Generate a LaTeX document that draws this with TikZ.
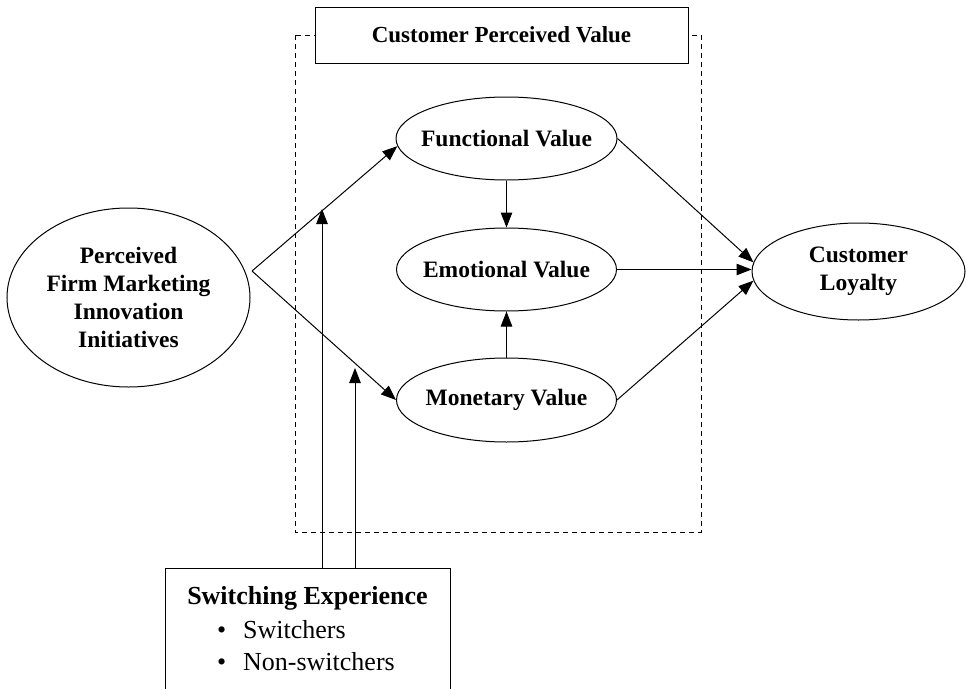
\documentclass[tikz,border=0pt]{standalone}
\usepackage{fontspec}
\setmainfont{Liberation Serif}
\usetikzlibrary{shapes.geometric,arrows.meta}
\begin{document}
\begin{tikzpicture}[x=1pt,y=-1pt,
  ln/.style={line width=1pt},
  ar/.style={line width=1pt,-{Triangle[length=15pt,width=11.5pt]}},
  ell/.style={ellipse,draw,line width=1pt,inner sep=0pt},
  lbl/.style={font=\fontsize{23.5}{28.3}\selectfont\bfseries,align=center,inner sep=0pt},
  boxtxt/.style={font=\fontsize{26}{30}\selectfont,inner sep=0pt}
]
\useasboundingbox (0,0) rectangle (966,688);
% dashed frame
\draw[line width=0.9pt,dash pattern=on 5pt off 4pt] (295,35) rectangle (701,532);
\node[draw,fill=white,line width=1pt,minimum width=373pt,minimum height=56pt,inner sep=0pt,
      font=\fontsize{23}{27}\selectfont\bfseries] (CPV) at (501.5,35) {Customer Perceived Value};
% ellipses
\node[ell,minimum width=243pt,minimum height=179pt] (P) at (128.5,297.5) {};
\node[lbl] (Pt) at (P) {Perceived\\Firm Marketing\\Innovation\\Initiatives};
\node[ell,minimum width=221pt,minimum height=83pt] (F) at (506.5,138.5) {};
\node[lbl] (Ft) at (F) {Functional Value};
\node[ell,minimum width=220pt,minimum height=83pt] (E) at (506.5,269.5) {};
\node[lbl] (Et) at (E) {Emotional Value};
\node[ell,minimum width=220pt,minimum height=84pt] (M) at (506.5,400) {};
\node[lbl] (Mt) at (M) {Monetary Value};
\node[ell,minimum width=213pt,minimum height=97pt] (L) at (858.5,271.5) {};
\node[lbl] (Lt) at (L) {Customer\\Loyalty};
% switching box
\node[draw,line width=1pt,minimum width=285pt,minimum height=124pt,inner sep=0pt] (S) at (307.5,630) {};
\node[boxtxt,font=\fontsize{26}{30}\selectfont\bfseries,anchor=base] (St) at (307.5,604) {Switching Experience};
\node[boxtxt,anchor=base west] (S1) at (217,638) {\makebox[26pt][l]{\textbullet}Switchers};
\node[boxtxt,anchor=base west] (S2) at (217,670) {\makebox[26pt][l]{\textbullet}Non-switchers};
% connectors
\coordinate (B) at (252,271);
\draw[ar] (B) -- (F.184);
\draw[ar] (B) -- (M.west);
\draw[ar] (F.south) -- (E.north);
\draw[ar] (M.north) -- (E.south);
\draw[ar] (F.east) -- (L.175);
\draw[ar] (E.east) -- (E.east -| L.west);
\draw[ar] (M.east) -- (L.185);
\coordinate (t1) at (322,209);
\coordinate (t2) at (355,368);
\draw[ar] (t1 |- S.north) -- (t1);
\draw[ar] (t2 |- S.north) -- (t2);
\end{tikzpicture}
\end{document}
